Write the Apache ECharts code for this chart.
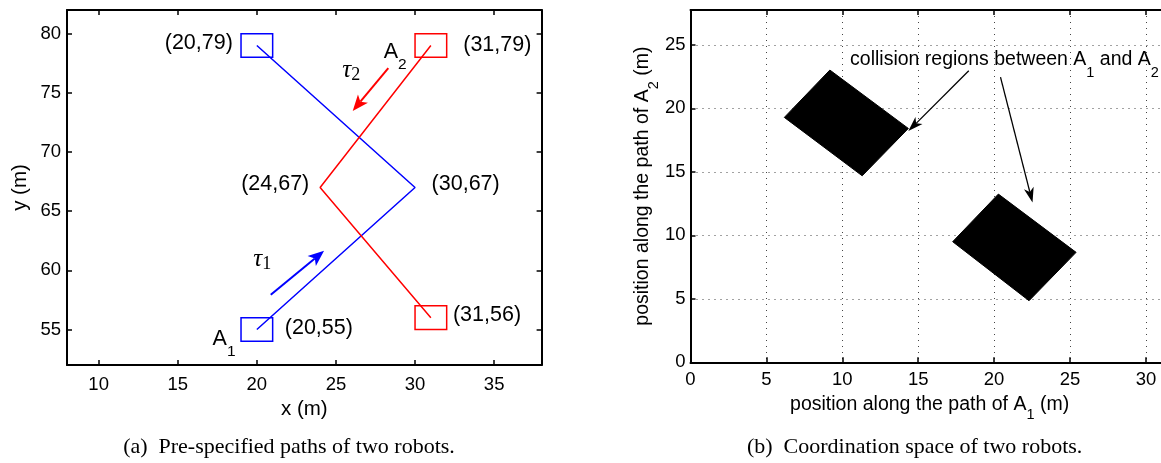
<!DOCTYPE html>
<html>
<head>
<meta charset="utf-8">
<script src="https://cdn.jsdelivr.net/npm/echarts@6/dist/echarts.min.js"></script>
<style>
html,body{margin:0;padding:0;background:#fff;}
#c{width:1161px;height:463px;}
</style>
</head>
<body>
<div id="c"></div>
<script>
// ---------------- data ----------------
// (a) pre-specified paths
const pathA1 = [[20,55],[30,67],[20,79]];
const pathA2 = [[31,79],[24,67],[31,56]];
const robotEndsA1 = [[20,55],[20,79]];
const robotEndsA2 = [[31,79],[31,56]];
const robotSize = 2; // robot footprint side (m)
const pointLabelText = ['(20,79)','(31,79)','(24,67)','(30,67)','(31,56)','(20,55)'];
const pointLabelPos  = [[16.33,79.2],[35.2,79.05],[21.16,67.31],[33.2,67.31],[34.55,56.24],[23.92,55.12]];
const robotNameSub = ['1','2'];
const robotNamePos = [[17.93,54.2],[28.74,78.41]];
const tauArrows = [[20.88,57.93,24.25,61.65],[28.31,77.08,26.06,73.47]];
const tauSub = ['1','2'];
const tauLabelPos = [[20.34,60.9],[25.97,76.89]];
const xRangeA = [8,38];
const yRangeA = [52,82];
// (b) coordination space
const collisionRegions = [
  [9.18,23.02, 6.18,19.29, 11.31,14.69, 14.35,18.42],
  [20.28,13.25, 17.27,9.50, 22.30,4.85, 25.40,8.66]
];
const collisionArrows = [[18.33,22.96,14.35,18.21],[20.42,22.46,22.53,12.58]];
const collisionNotePos = [[10.51,23.87]];
const xRangeB = [0,31.5];
const yRangeB = [0,27.75];
const tickStep = 5;
const captionA = '(a)\u2002Pre-specified paths of two robots.';
const captionB = '(b)\u2002Coordination space of two robots.';

// ---------------- styles ----------------
const SANS = '"Liberation Sans", Arial, Helvetica, sans-serif';
const SERIF = '"Liberation Serif", "Times New Roman", serif';
const BLUE = '#0000ff', RED = '#ff0000';
const tickFmt = v => (Math.abs(v % tickStep) < 1e-9 ? String(v) : '');

function boxAxis(grid, pos, range, opts) {
  const main = (pos === 'bottom' || pos === 'left');
  return Object.assign({
    type: 'value', gridIndex: grid, position: pos,
    min: range[0], max: range[1],
    axisLine: {show: true, onZero: false, lineStyle: {color: '#000', width: 2}},
    axisTick: {show: true, inside: true, length: 5, lineStyle: {color: '#000', width: 1.5}},
    axisLabel: {show: main, color: '#000', fontSize: 18.5, fontFamily: SANS, formatter: tickFmt},
    splitLine: {show: false}
  }, opts || {});
}
const dotted = {show: true, lineStyle: {type: [1, 5], color: '#444', width: 1}};

function arrowRender(colors, lw, headLen, headHalf, notch) {
  return function (params, api) {
    const p1 = api.coord([api.value(0), api.value(1)]);
    const p2 = api.coord([api.value(2), api.value(3)]);
    const dx = p2[0]-p1[0], dy = p2[1]-p1[1];
    const L = Math.hypot(dx, dy), ux = dx/L, uy = dy/L, nx = -uy, ny = ux;
    const bx = p2[0]-ux*headLen, by = p2[1]-uy*headLen;
    const mx = p2[0]-ux*(headLen-notch), my = p2[1]-uy*(headLen-notch);
    const col = colors[params.dataIndex % colors.length];
    return {type: 'group', children: [
      {type: 'line', shape: {x1: p1[0], y1: p1[1], x2: mx, y2: my}, style: {stroke: col, lineWidth: lw}},
      {type: 'polygon', shape: {points: [[p2[0],p2[1]],[bx+nx*headHalf, by+ny*headHalf],[mx,my],[bx-nx*headHalf, by-ny*headHalf]]}, style: {fill: col}}
    ]};
  };
}
function squareRender(color) {
  return function (params, api) {
    const h = robotSize/2;
    const a = api.coord([api.value(0)-h, api.value(1)+h]);
    const b = api.coord([api.value(0)+h, api.value(1)-h]);
    return {type: 'rect', shape: {x: a[0], y: a[1], width: b[0]-a[0], height: b[1]-a[1]},
            style: {fill: 'none', stroke: color, lineWidth: 1.5}};
  };
}
function textSeries(xi, yi, data, getText, style) {
  return {type: 'custom', xAxisIndex: xi, yAxisIndex: yi, data: data, silent: true, z: 10,
    renderItem: function (params, api) {
      const p = api.coord([api.value(0), api.value(1)]);
      return {type: 'text', x: p[0], y: p[1],
        style: Object.assign({text: getText(params.dataIndex), fill: '#000', align: 'center', verticalAlign: 'middle'}, style)};
    }};
}

const chart = echarts.init(document.getElementById('c'), null, {renderer: 'canvas'});
chart.setOption({
  animation: false,
  backgroundColor: '#fff',
  grid: [
    {left: 67, top: 10, width: 474.6, height: 355, containLabel: false, outerBoundsMode: 'none'},
    {left: 690.5, top: 10, width: 478.2, height: 352.3, containLabel: false, outerBoundsMode: 'none'}
  ],
  xAxis: [
    boxAxis(0, 'bottom', xRangeA, {splitNumber: 6, axisLabel: {show: true, color: '#000', fontSize: 18.5, fontFamily: SANS, margin: 10, formatter: tickFmt},
      name: 'x (m)', nameLocation: 'middle', nameGap: 32, nameTextStyle: {color: '#000', fontSize: 20.5, fontFamily: SANS}}),
    boxAxis(0, 'top', xRangeA, {splitNumber: 6}),
    boxAxis(1, 'bottom', xRangeB, {interval: tickStep, splitLine: dotted,
      axisLabel: {show: true, color: '#000', fontSize: 18.5, fontFamily: SANS, margin: 8, formatter: tickFmt},
      name: '{m|position along the path of A}{s|1}{m| (m)}', nameLocation: 'middle', nameGap: 8,
      nameTextStyle: {color: '#000', rich: {m: {fontSize: 19.5, fontFamily: SANS, color: '#000'}, s: {fontSize: 14.5, fontFamily: SANS, color: '#000', padding: [22,0,0,0]}}}}),
    boxAxis(1, 'top', xRangeB, {interval: tickStep})
  ],
  yAxis: [
    boxAxis(0, 'left', yRangeA, {splitNumber: 6, axisLabel: {show: true, color: '#000', fontSize: 18.5, fontFamily: SANS, margin: 6, formatter: tickFmt},
      name: 'y (m)', nameLocation: 'middle', nameGap: 36, nameTextStyle: {color: '#000', fontSize: 20.5, fontFamily: SANS}}),
    boxAxis(0, 'right', yRangeA, {splitNumber: 6}),
    boxAxis(1, 'left', yRangeB, {interval: tickStep, splitLine: dotted,
      axisLabel: {show: true, color: '#000', fontSize: 18.5, fontFamily: SANS, margin: 5, formatter: tickFmt},
      name: '{m|position along the path of A}{s|2}{m| (m)}', nameLocation: 'middle', nameGap: 27,
      nameTextStyle: {color: '#000', rich: {m: {fontSize: 19.5, fontFamily: SANS, color: '#000'}, s: {fontSize: 14.5, fontFamily: SANS, color: '#000', padding: [22,0,0,0]}}}}),
    boxAxis(1, 'right', yRangeB, {interval: tickStep})
  ],
  series: [
    {type: 'line', xAxisIndex: 0, yAxisIndex: 0, data: pathA1, symbol: 'none', lineStyle: {color: BLUE, width: 1.5}, silent: true},
    {type: 'line', xAxisIndex: 0, yAxisIndex: 0, data: pathA2, symbol: 'none', lineStyle: {color: RED, width: 1.5}, silent: true},
    {type: 'custom', xAxisIndex: 0, yAxisIndex: 0, data: robotEndsA1, renderItem: squareRender(BLUE), silent: true},
    {type: 'custom', xAxisIndex: 0, yAxisIndex: 0, data: robotEndsA2, renderItem: squareRender(RED), silent: true},
    {type: 'custom', xAxisIndex: 0, yAxisIndex: 0, data: tauArrows, renderItem: arrowRender([BLUE, RED], 2, 16, 6.5, 4), silent: true},
    textSeries(0, 0, pointLabelPos, i => pointLabelText[i], {fontSize: 21.5, fontFamily: SANS}),
    textSeries(0, 0, robotNamePos, i => '{m|A}{s|' + robotNameSub[i] + '}',
      {rich: {m: {fontSize: 21.5, fontFamily: SANS, fill: '#000'}, s: {fontSize: 15.5, fontFamily: SANS, fill: '#000', padding: [25,0,0,0]}}}),
    textSeries(0, 0, tauLabelPos, i => '{t|\u03c4}{n|' + tauSub[i] + '}',
      {rich: {t: {fontSize: 25, fontFamily: SERIF, fontStyle: 'italic', fill: '#000'}, n: {fontSize: 18, fontFamily: SERIF, fill: '#000', padding: [9,0,0,0]}}}),
    // (b)
    {type: 'custom', xAxisIndex: 2, yAxisIndex: 2, data: collisionRegions, silent: true, z: 5,
     renderItem: function (params, api) {
       const pts = [];
       for (let k = 0; k < 8; k += 2) pts.push(api.coord([api.value(k), api.value(k+1)]));
       return {type: 'polygon', shape: {points: pts}, style: {fill: '#000', stroke: '#000', lineWidth: 1}};
     }},
    {type: 'custom', xAxisIndex: 2, yAxisIndex: 2, data: collisionArrows, renderItem: arrowRender(['#000'], 1.3, 15, 5, 4), silent: true, z: 6},
    textSeries(2, 2, collisionNotePos, () => '{m|collision regions between A}{s|1}{m| and A}{s|2}',
      {align: 'left', rich: {m: {fontSize: 19.5, fontFamily: SANS, fill: '#000'}, s: {fontSize: 14.5, fontFamily: SANS, fill: '#000', padding: [28,0,0,0]}}})
  ],
  graphic: [
    {type: 'text', x: 289, y: 447, silent: true, style: {text: captionA, fontSize: 22, fontFamily: SERIF, fill: '#000', align: 'center', verticalAlign: 'middle'}},
    {type: 'text', x: 914.6, y: 447, silent: true, style: {text: captionB, fontSize: 22, fontFamily: SERIF, fill: '#000', align: 'center', verticalAlign: 'middle'}}
  ]
});
</script>
</body>
</html>
